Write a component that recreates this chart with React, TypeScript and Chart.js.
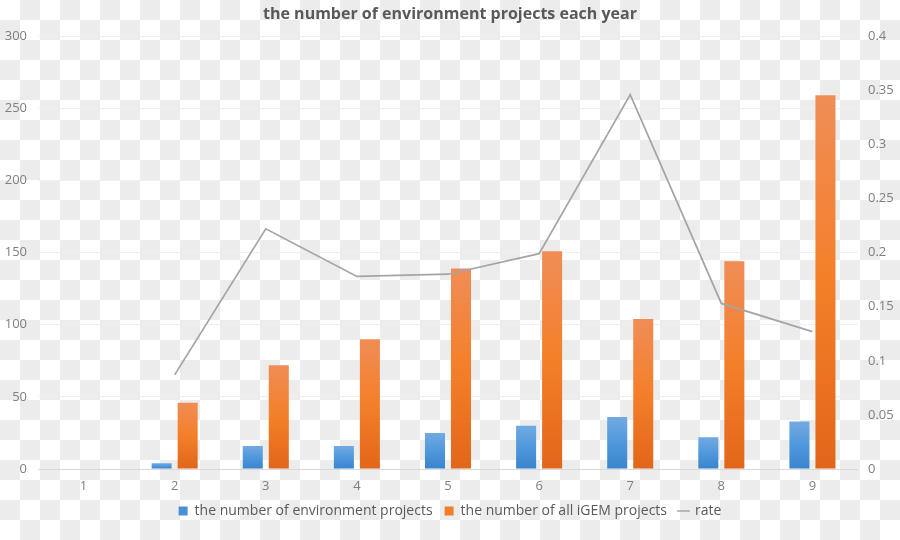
import React, { useEffect, useRef } from 'react';
import { Chart, registerables } from 'chart.js';

Chart.register(...registerables);

const titleText = 'the number of environment projects each year';
const categories = ['1', '2', '3', '4', '5', '6', '7', '8', '9'];
const environmentProjects: (number | null)[] = [null, 4, 16, 16, 25, 30, 36, 22, 33];
const allIgemProjects: (number | null)[] = [null, 46, 72, 90, 139, 151, 104, 144, 259];
const rate: (number | null)[] = [null, 0.087, 0.222, 0.178, 0.18, 0.199, 0.346, 0.153, 0.127];
const seriesNames = ['the number of environment projects', 'the number of all iGEM projects', 'rate'];
const leftAxis = { min: 0, max: 300, step: 50 };
const rightAxis = { min: 0, max: 0.4, step: 0.05 };

const FONT = "'Open Sans', 'DejaVu Sans', sans-serif";

function barGradient(light: string, mid: string, dark: string, solid: string) {
  return (ctx: any) => {
    const chart = ctx.chart;
    if (!chart.chartArea || ctx.type !== 'data') return solid;
    const v = ctx.raw;
    if (v == null) return solid;
    const y = chart.scales.y;
    const top = y.getPixelForValue(v);
    const bottom = y.getPixelForValue(0);
    if (!isFinite(top) || !isFinite(bottom) || bottom - top < 1) return solid;
    const g = chart.ctx.createLinearGradient(0, top, 0, bottom);
    g.addColorStop(0, light);
    g.addColorStop(0.5, mid);
    g.addColorStop(1, dark);
    return g;
  };
}

export default function App() {
  const canvasRef = useRef<HTMLCanvasElement | null>(null);

  useEffect(() => {
    if (!canvasRef.current) return;
    const chart = new Chart(canvasRef.current, {
      data: {
        labels: categories,
        datasets: [
          {
            type: 'bar',
            label: seriesNames[0],
            data: environmentProjects,
            yAxisID: 'y',
            backgroundColor: barGradient('#72aae2', '#5098dc', '#3a84cf', '#4a90d9'),
            borderWidth: 0,
            categoryPercentage: 0.571,
            barPercentage: 0.77,
            order: 1,
          },
          {
            type: 'bar',
            label: seriesNames[1],
            data: allIgemProjects,
            yAxisID: 'y',
            backgroundColor: barGradient('#f08d56', '#f47f29', '#e1661a', '#f07d2c'),
            borderWidth: 0,
            categoryPercentage: 0.571,
            barPercentage: 0.77,
            order: 1,
          },
          {
            type: 'line',
            label: seriesNames[2],
            data: rate,
            yAxisID: 'y1',
            borderColor: '#a5a5a5',
            backgroundColor: '#a5a5a5',
            borderWidth: 1.75,
            pointRadius: 0,
            pointHoverRadius: 0,
            tension: 0,
            spanGaps: false,
            order: 0,
          },
        ],
      } as any,
      options: {
        responsive: false,
        animation: false,
        layout: { padding: { left: 0, right: 0, top: 0, bottom: 12 } },
        plugins: {
          title: {
            display: true,
            text: titleText,
            color: '#595959',
            font: { family: FONT, size: 16, weight: 'bold' },
            padding: { top: 5, bottom: 12 },
          },
          legend: {
            display: true,
            position: 'bottom',
            labels: {
              color: '#595959',
              font: { family: FONT, size: 14 },
              usePointStyle: true,
              boxWidth: 9,
              boxHeight: 9,
              padding: 12,
              sort: (a: any, b: any) => a.datasetIndex - b.datasetIndex,
              generateLabels: (ch: any) =>
                ch.data.datasets.map((ds: any, i: number) => ({
                  text: ds.label,
                  fillStyle: i === 0 ? '#4a90d9' : i === 1 ? '#f07d2c' : '#a5a5a5',
                  strokeStyle: i === 0 ? '#4a90d9' : i === 1 ? '#f07d2c' : '#a5a5a5',
                  lineWidth: i === 2 ? 1.5 : 0,
                  pointStyle: i === 2 ? 'line' : 'rect',
                  fontColor: '#595959',
                  datasetIndex: i,
                  hidden: false,
                })),
            },
          },
          tooltip: { enabled: false },
        },
        scales: {
          x: {
            grid: { display: false, drawTicks: false },
            border: { display: false },
            ticks: { color: '#7f7f7f', font: { family: FONT, size: 13 }, padding: 9 },
            afterFit: (s: any) => { s.height = 23; },
          },
          y: {
            position: 'left',
            min: leftAxis.min,
            max: leftAxis.max,
            ticks: {
              stepSize: leftAxis.step,
              color: '#7f7f7f',
              font: { family: FONT, size: 13 },
              padding: 11,
            },
            grid: {
              drawTicks: false,
              color: (c: any) => (c.tick && c.tick.value === 0 ? '#d9d9d9' : '#f0f0f0'),
              lineWidth: 1,
            },
            border: { display: false },
            afterFit: (s: any) => { s.width = 38; },
          },
          y1: {
            position: 'right',
            min: rightAxis.min,
            max: rightAxis.max,
            ticks: {
              stepSize: rightAxis.step,
              color: '#7f7f7f',
              font: { family: FONT, size: 13 },
              padding: 10,
              callback: (v: any) => String(Math.round(Number(v) * 100) / 100),
            },
            grid: { display: false, drawTicks: false },
            border: { display: false },
            afterFit: (s: any) => { s.width = 42; },
          },
        },
      } as any,
    });
    return () => chart.destroy();
  }, []);

  return (
    <div
      style={{
        position: 'absolute',
        left: 0,
        top: 0,
        width: 900,
        height: 540,
        background: 'repeating-conic-gradient(#ececec 0% 25%, #ffffff 0% 50%) 0 0 / 40px 40px',
      }}
    >
      <canvas ref={canvasRef} width={900} height={540} style={{ display: 'block', width: 900, height: 540 }} />
    </div>
  );
}
